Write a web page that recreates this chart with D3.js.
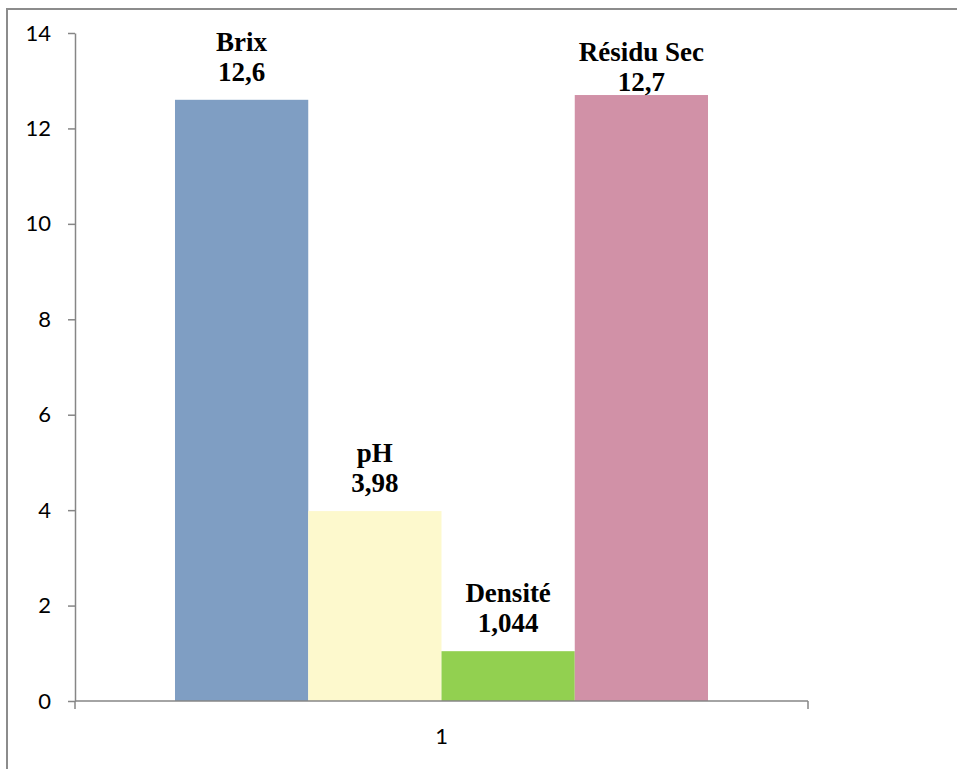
<!DOCTYPE html>
<html>
<head>
<meta charset="utf-8">
<script src="https://cdn.jsdelivr.net/npm/d3@7"></script>
<style>
  html, body { margin: 0; padding: 0; background: #fff; }
  svg { display: block; }
</style>
</head>
<body>
<svg id="chart" width="957" height="769"></svg>
<script>
// Chart data
const categories = ["1"];
const seriesNames = ["Brix", "pH", "Densité", "Résidu Sec"];
const seriesValues = [12.6, 3.98, 1.044, 12.7];
const valueLabels = ["12,6", "3,98", "1,044", "12,7"];
const seriesColors = ["#7f9ec3", "#fdf9cd", "#92d050", "#d191a7"];
const yTicks = [0, 2, 4, 6, 8, 10, 12, 14];

const svg = d3.select("#chart");
const W = 957, H = 769;
const plot = { left: 75, right: 808, top: 33, bottom: 701 };

// Outer frame of the chart area
svg.append("rect")
  .attr("x", 7).attr("y", 9)
  .attr("width", W + 10).attr("height", H + 10)
  .attr("fill", "none")
  .attr("stroke", "#8c8c8c")
  .attr("stroke-width", 2);

const y = d3.scaleLinear().domain([0, 14]).range([plot.bottom, plot.top]);

const x0 = d3.scaleBand()
  .domain(categories)
  .range([plot.left, plot.right])
  .paddingInner(0)
  .paddingOuter(0.1876);

const x1 = d3.scaleBand()
  .domain(seriesNames)
  .range([0, x0.bandwidth()])
  .padding(0);

// Bars
const rows = seriesNames.map((name, i) => ({
  name, value: seriesValues[i], label: valueLabels[i], color: seriesColors[i], cat: categories[0]
}));

svg.append("g").selectAll("rect.bar")
  .data(rows)
  .join("rect")
  .attr("class", "bar")
  .attr("x", d => x0(d.cat) + x1(d.name))
  .attr("y", d => y(d.value))
  .attr("width", x1.bandwidth())
  .attr("height", d => y(0) - y(d.value))
  .attr("fill", d => d.color);

const tickFont = "Lato, 'Open Sans', sans-serif";

// Y axis
const ya = svg.append("g")
  .attr("transform", `translate(${plot.left},0)`)
  .call(d3.axisLeft(y)
    .tickValues(yTicks)
    .tickSize(7)
    .tickSizeOuter(0)
    .tickPadding(17)
    .tickFormat(d3.format("d")));
ya.select(".domain").attr("stroke", "#868686").attr("stroke-width", 1.5);
ya.selectAll(".tick line").attr("stroke", "#868686").attr("stroke-width", 1.5);
ya.selectAll(".tick text")
  .attr("fill", "#000")
  .style("font-family", tickFont)
  .style("font-size", "22px");

// X axis: category label at band center, tick marks at the axis ends
const xa = svg.append("g")
  .attr("transform", `translate(0,${plot.bottom})`)
  .call(d3.axisBottom(x0).tickSize(0).tickSizeOuter(0).tickPadding(27));
xa.select(".domain").remove();
xa.selectAll(".tick text")
  .attr("fill", "#000")
  .style("font-family", tickFont)
  .style("font-size", "22px");

xa.append("line")
  .attr("x1", plot.left).attr("x2", plot.right)
  .attr("y1", 0).attr("y2", 0)
  .attr("stroke", "#868686").attr("stroke-width", 1.5);

xa.selectAll("line.edge")
  .data(x0.range())
  .join("line")
  .attr("class", "edge")
  .attr("x1", d => d).attr("x2", d => d)
  .attr("y1", 0).attr("y2", 8)
  .attr("stroke", "#868686").attr("stroke-width", 1.5);

// Data labels: series name over value, above each bar
const lineGap = 30;
const labelGap = 19;
const minBase = plot.top + 47;
const labels = svg.append("g")
  .style("font-family", "'Liberation Serif', 'Times New Roman', serif")
  .style("font-weight", "bold")
  .style("font-size", "27px")
  .attr("fill", "#000")
  .attr("text-anchor", "middle");

labels.selectAll("g.lbl")
  .data(rows)
  .join("g")
  .attr("class", "lbl")
  .each(function (d) {
    const cx = x0(d.cat) + x1(d.name) + x1.bandwidth() / 2;
    // keep the label block below the top of the plot; a label that would
    // rise above it is pushed down onto its bar
    let base = y(d.value) - labelGap;
    if (base < minBase) base = Math.max(minBase, y(d.value) - 4);
    const sel = d3.select(this);
    sel.append("text").attr("x", cx).attr("y", base - lineGap).text(d.name);
    sel.append("text").attr("x", cx).attr("y", base).text(d.label);
  });
</script>
</body>
</html>
